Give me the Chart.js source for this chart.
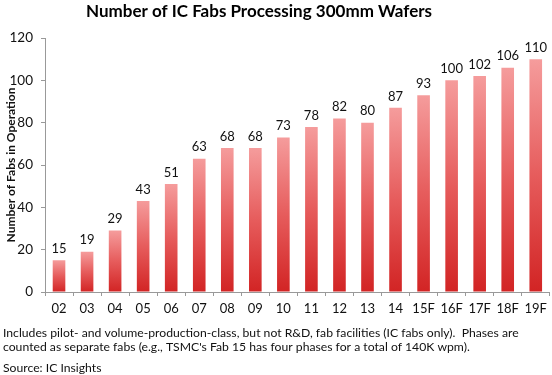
<!DOCTYPE html>
<html>
<head>
<meta charset="utf-8">
<script src="https://cdn.jsdelivr.net/npm/chart.js@4.4.1/dist/chart.umd.min.js"></script>
<style>
html,body{margin:0;padding:0;background:#fff;}
#wrap{position:relative;width:552px;height:375px;}
</style>
</head>
<body>
<div id="wrap"><canvas id="c" width="552" height="375"></canvas></div>
<script>
const categories = ['02','03','04','05','06','07','08','09','10','11','12','13','14','15F','16F','17F','18F','19F'];
const fabCounts = [15,19,29,43,51,63,68,68,73,78,82,80,87,93,100,102,106,110];
const yTicks = [0,20,40,60,80,100,120];
const titleText = 'Number of IC Fabs Processing 300mm Wafers';
const yAxisTitle = 'Number of Fabs in Operation';
const footnoteLines = [
  'Includes pilot- and volume-production-class, but not R&D, fab facilities (IC fabs only).  Phases are',
  "counted as separate fabs (e.g., TSMC's Fab 15 has four phases for a total of 140K wpm).",
];
const sourceText = 'Source: IC Insights';

const FONT = 'Lato, "Open Sans", sans-serif';

const textPlugin = {
  id: 'texts',
  afterDraw(chart) {
    const ctx = chart.ctx;
    ctx.save();
    ctx.fillStyle = '#000';
    ctx.font = 'bold 17px ' + FONT;
    ctx.textAlign = 'center';
    ctx.textBaseline = 'middle';
    ctx.fillText(titleText, 259, 12);
    ctx.font = '13px ' + FONT;
    ctx.fillStyle = '#111';
    ctx.textBaseline = 'bottom';
    const meta = chart.getDatasetMeta(0);
    meta.data.forEach((bar, i) => {
      ctx.fillText(String(fabCounts[i]), bar.x, bar.y - 5);
    });
    ctx.textAlign = 'left';
    ctx.textBaseline = 'middle';
    ctx.font = '12.2px ' + FONT;
    ctx.fillStyle = '#111';
    footnoteLines.forEach((t, i) => ctx.fillText(t, 3, 333 + i * 14.5));
    ctx.fillText(sourceText, 3, 368);
    ctx.restore();
  }
};

function barGradient(context) {
  const chart = context.chart;
  const {chartArea, scales} = chart;
  if (!chartArea || !scales.y || context.type !== 'data') return '#e04040';
  const top = scales.y.getPixelForValue(context.raw);
  const bottom = scales.y.getPixelForValue(0);
  const g = chart.ctx.createLinearGradient(0, top, 0, bottom);
  g.addColorStop(0, '#f59c9c');
  g.addColorStop(0.5, '#e65c5c');
  g.addColorStop(1, '#d22424');
  return g;
}

new Chart(document.getElementById('c'), {
  type: 'bar',
  data: {
    labels: categories,
    datasets: [{
      data: fabCounts,
      backgroundColor: barGradient,
      borderWidth: 0,
      barPercentage: 0.45,
      categoryPercentage: 1.0
    }]
  },
  options: {
    responsive: false,
    animation: false,
    devicePixelRatio: 1,
    layout: { padding: { top: 38, right: 1, bottom: 56, left: 0 } },
    plugins: {
      legend: { display: false },
      tooltip: { enabled: false },
      title: { display: false }
    },
    scales: {
      x: {
        grid: { display: true, drawOnChartArea: false, offset: true, color: '#999', tickLength: 4, tickWidth: 1 },
        border: { display: true, color: '#999', width: 1 },
        ticks: { color: '#111', font: { family: FONT, size: 13 }, padding: 5, maxRotation: 0, autoSkip: false },
        afterFit(s) { s.height = 27; }
      },
      y: {
        min: 0, max: 120,
        afterBuildTicks(s) { s.ticks = yTicks.map(v => ({value: v})); },
        grid: { display: true, drawOnChartArea: false, color: '#999', tickLength: 4 },
        border: { display: true, color: '#999', width: 1 },
        ticks: { color: '#111', font: { family: FONT, size: 13.5 }, padding: 8 },
        title: { display: true, text: yAxisTitle, color: '#111', font: { family: FONT, size: 12, weight: 'bold' }, padding: { top: 4, bottom: 0 } },
        afterFit(s) { s.width = 45; }
      }
    }
  },
  plugins: [textPlugin]
});
</script>
</body>
</html>
